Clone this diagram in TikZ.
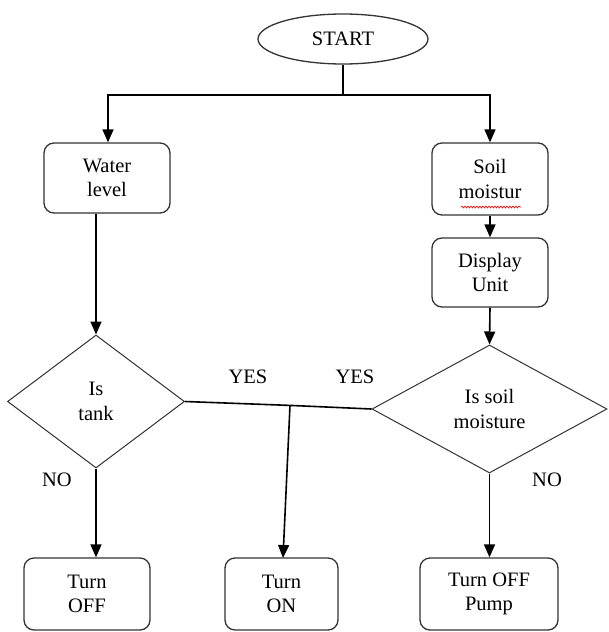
\documentclass[tikz,border=0pt]{standalone}
\usepackage{fontspec}
\setmainfont{Liberation Serif}
\usetikzlibrary{shapes.geometric,arrows.meta,decorations.pathmorphing}
\begin{document}
\begin{tikzpicture}[x=1pt,y=-1pt,
  font=\fontsize{20.5}{24.5}\selectfont,
  line width=1.3pt,
  box/.style={draw=black!80, rounded corners=10pt, align=center, inner sep=0pt},
  dia/.style={draw=black!80, diamond, inner sep=0pt, align=center, line width=1pt},
  arr/.style={-{Triangle[length=13pt,width=11pt]}, line width=1.6pt},
  lnk/.style={line width=1.6pt}]
\useasboundingbox (0,0) rectangle (609,632);
\node[ellipse, draw=black!80, minimum width=170pt, minimum height=50pt, inner sep=0pt] (start) at (343,39) {START};
\node[box, minimum width=126pt, minimum height=70pt] (wl) at (107,178) {Water\\level};
\node[box, minimum width=116pt, minimum height=72pt] (sm) at (490,179) {Soil\\moistur};
\node[box, minimum width=116pt, minimum height=69pt] (du) at (490,272.5) {Display\\Unit};
\node[dia, minimum width=177pt, minimum height=133pt] (ld) at (96,401.5) {Is\\tank};
\node[dia, minimum width=235pt, minimum height=128pt] (rd) at (489.5,409) {Is soil\\moisture};
\node[box, minimum width=126pt, minimum height=72pt] (off) at (87,594) {Turn\\OFF};
\node[box, minimum width=113pt, minimum height=72pt] (on) at (281.5,594) {Turn\\ON};
\node[box, minimum width=138pt, minimum height=72pt] (pump) at (489,594) {Turn OFF\\Pump};
% spell-check underline
\coordinate (u1) at (461,207);
\coordinate (u2) at (521,207);
\draw[red, line width=0.6pt, decorate, decoration={snake, amplitude=1pt, segment length=3pt}] (u1) -- (u2);
% connectors
\coordinate (top) at (343,95);
\coordinate (tl) at (108,95);
\coordinate (tr) at (490,95);
\draw[lnk] (start.south) -- (top);
\draw[arr] (top) -- (tl) -- (tl |- wl.north);
\draw[arr] (top) -- (tr) -- (tr |- sm.north);
\draw[arr] (sm.south) -- (du.north);
\draw[arr] (du.south) -- (rd.north);
\draw[arr] (wl.south -| ld.north) -- (ld.north);
\coordinate (j) at (290,405.4);
\draw[lnk] (ld.east) -- (j) -- (rd.west);
\draw[arr] (j) -- (283,558) coordinate (onin);
\draw[arr] (ld.south) -- (ld.south |- off.north);
\draw[arr] (rd.south) -- (rd.south |- pump.north);
% labels
\node (y1) at (248,377) {YES};
\node (y2) at (355,377) {YES};
\node (n1) at (57,480) {NO};
\node (n2) at (547,480) {NO};
\end{tikzpicture}
\end{document}
